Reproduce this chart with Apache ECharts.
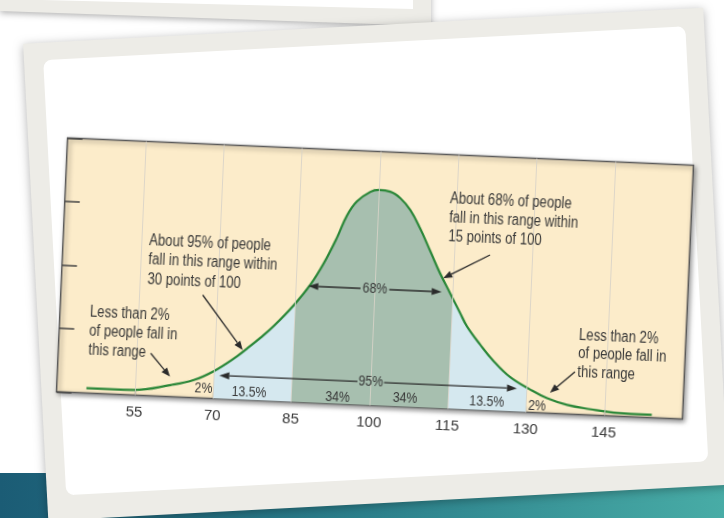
<!DOCTYPE html>
<html><head><meta charset="utf-8">
<script src="https://cdn.jsdelivr.net/npm/echarts@6/dist/echarts.min.js"></script>
<style>
html,body{margin:0;padding:0;width:724px;height:518px;overflow:hidden;background:#fff}
#bg,#chart{position:absolute;left:0;top:0;width:724px;height:518px}
#chart{transform-origin:375px 278.5px;transform:rotate(2.5deg)}
</style></head><body>
<div id="bg"></div><div id="chart"></div>
<script>
// ---- data ----
const curveX = [45.7, 54.8, 61.8, 66.2, 69.9, 73.6, 76.1, 78.6, 81.0, 84.65, 87.7, 90.05, 92.4, 94.1, 95.9, 98.4, 100.0, 102.2, 104.2, 106.2, 108.2, 110.4, 112.4, 114.5, 116.6, 118.0, 120.7, 123.4, 126.7, 130.6, 133.9, 137.8, 142.3, 146.8, 154.1];
const curveY = [0.076, 0.082, 0.184, 0.279, 0.43, 0.64, 0.81, 0.99, 1.18, 1.52, 1.86, 2.20, 2.62, 2.97, 3.20, 3.36, 3.395, 3.376, 3.28, 3.10, 2.822, 2.46, 2.128, 1.82, 1.512, 1.31, 1.03, 0.78, 0.54, 0.36, 0.235, 0.143, 0.091, 0.054, 0.044];
const xTickValues = [55, 70, 85, 100, 115, 130, 145];
const yTickValues = [0, 1, 2, 3, 4];
const bandEdges = [70, 85, 115, 130];
const bandLabels = ['2%', '13.5%', '34%', '34%', '13.5%', '2%'];
const rangeLabels = ['68%', '95%'];
const notes = [
  'About 95% of people\nfall in this range within\n30 points of 100',
  'Less than 2%\nof people fall in\nthis range',
  'About 68% of people\nfall in this range within\n15 points of 100',
  'Less than 2%\nof people fall in\nthis range'
];

// ---- style / layout ----
const FONT = "'Liberation Sans',Arial,sans-serif";
const NARROW = 0.82;
const TXT = '#383838';
const PEACH = '#fcecca', GREEN = '#a7bfaf', BLUE = '#d5e8ef', CURVE = '#2a8738';

// background scene
const bg = echarts.init(document.getElementById('bg'), null, {renderer: 'canvas'});
const deg = Math.PI / 180;
bg.setOption({
  animation: false,
  graphic: [
    {type: 'rect', shape: {x: 0, y: 473, width: 724, height: 45},
     style: {fill: new echarts.graphic.LinearGradient(0, 0, 1, 0, [
       {offset: 0, color: '#1b5c75'}, {offset: 0.5, color: '#2b7f8b'}, {offset: 1, color: '#48aca6'}])}},
    {type: 'polygon', shape: {points: [[0, -10], [431, -10], [431, 26], [0, 11]]},
     style: {fill: '#edece7', shadowBlur: 6, shadowColor: 'rgba(0,0,0,0.3)', shadowOffsetY: 2}},
    {type: 'polygon', shape: {points: [[0, -10], [413, -10], [413, 9], [0, -1]]}, style: {fill: '#ffffff'}},
    {type: 'rect', x: 375.75, y: 264.25, rotation: 3.03 * deg,
     shape: {x: -340.5, y: -238.85, width: 681, height: 477.7},
     style: {fill: '#edece7', shadowBlur: 10, shadowColor: 'rgba(0,0,0,0.3)', shadowOffsetY: 2}},
    {type: 'rect', x: 375.75, y: 260.75, rotation: 3.03 * deg,
     shape: {x: -321.5, y: -217.85, width: 643, height: 435.7, r: 8},
     style: {fill: '#ffffff'}}
  ]
});

// chart
const chart = echarts.init(document.getElementById('chart'), null, {renderer: 'canvas'});
const curve = curveX.map((x, i) => [x, curveY[i]]);

function arrow(x1, y1, x2, y2, len) {
  const a = Math.atan2(y2 - y1, x2 - x1), L = len || 10, W = 3.6;
  const bx = x2 - L * Math.cos(a), by = y2 - L * Math.sin(a);
  const px = -Math.sin(a) * W, py = Math.cos(a) * W;
  return [
    {type: 'line', z: 100, shape: {x1: x1, y1: y1, x2: bx, y2: by}, style: {stroke: '#2b2b2b', lineWidth: 1.3}},
    {type: 'polygon', z: 100, shape: {points: [[x2, y2], [bx + px, by + py], [bx - px, by - py]]}, style: {fill: '#2b2b2b'}}
  ];
}
function txt(s, x, y, size, align, vAlign, lh) {
  return {type: 'text', z: 100, x: x, y: y, scaleX: NARROW,
    style: {text: s, fill: TXT, font: size + 'px ' + FONT, align: align, verticalAlign: vAlign, lineHeight: lh || size}};
}

const noteBoxes = [[147.8, 240.4, 19.5], [91.8, 315.0, 19], [446.4, 185.8, 19], [581.3, 317.2, 18.5]];
const bandLabelPos = [[208.5, 396], [254.1, 398], [342.7, 399], [410.2, 397], [492.0, 397], [542.4, 399]];

const graphics = [];
notes.forEach((n, i) => {
  const b = noteBoxes[i];
  graphics.push(txt(n, b[0], b[1], 16, 'left', 'top', b[2]));
});
bandLabels.forEach((s, i) => graphics.push(txt(s, bandLabelPos[i][0], bandLabelPos[i][1], 15, 'center', 'middle')));
graphics.push(txt(rangeLabels[0], 375.4, 289, 15, 'center', 'middle'));
graphics.push(txt(rangeLabels[1], 375.3, 382, 15, 'center', 'middle'));
graphics.push(...arrow(361, 289, 308.7, 289), ...arrow(389.7, 289, 442.2, 289));
graphics.push(...arrow(362, 382.2, 223.7, 382.2), ...arrow(388.6, 382.2, 521.6, 382.2));
graphics.push(...arrow(203.6, 302.5, 245.9, 355.7, 9));
graphics.push(...arrow(154.2, 363.0, 174.5, 385.5, 9));
graphics.push(...arrow(488.9, 250.0, 443.2, 275.3, 9));
graphics.push(...arrow(578.9, 362.9, 554.8, 385.0, 9));

const clear = 'rgba(252,236,202,0)';
const bandColors = [BLUE, GREEN, BLUE];
const pieces = [{lt: bandEdges[0], color: clear}];
for (let i = 0; i < bandEdges.length - 1; i++) pieces.push({gte: bandEdges[i], lt: bandEdges[i + 1], color: bandColors[i]});
pieces.push({gte: bandEdges[bandEdges.length - 1], color: clear});

chart.setOption({
  animation: false,
  backgroundColor: 'transparent',
  grid: {left: 61.7, top: 151.5, width: 626.6, height: 254, show: true, backgroundColor: PEACH,
    borderColor: '#5a5a5a', borderWidth: 1.5, shadowBlur: 5, shadowColor: 'rgba(0,0,0,0.45)', shadowOffsetX: 2, shadowOffsetY: 2},
  xAxis: {type: 'value', min: 40, max: 160,
    axisLine: {show: false}, splitLine: {show: false},
    axisTick: {show: true, inside: true, length: 6, customValues: xTickValues, lineStyle: {color: '#555', width: 1.2}},
    axisLabel: {show: true, customValues: xTickValues, margin: 10, fontSize: 15, fontFamily: FONT, color: TXT}},
  yAxis: {type: 'value', min: 0, max: 4, interval: 1,
    axisLine: {show: false}, splitLine: {show: false}, axisLabel: {show: false},
    axisTick: {show: true, inside: true, length: 15, customValues: yTickValues, lineStyle: {color: '#444', width: 1.5}}},
  visualMap: {type: 'piecewise', show: false, dimension: 0, seriesIndex: 0, pieces: pieces},
  series: [
    {type: 'line', data: curve, smooth: 0.4, showSymbol: false, silent: true, z: 1,
     lineStyle: {width: 0}, areaStyle: {opacity: 1},
     markLine: {silent: true, symbol: ['none', 'none'], label: {show: false},
       lineStyle: {color: 'rgba(215,210,200,0.85)', width: 1, type: 'solid'},
       data: xTickValues.map(v => ({xAxis: v}))}},
    {type: 'line', data: curve, smooth: 0.4, showSymbol: false, silent: true, z: 3,
     lineStyle: {color: CURVE, width: 2.2}}
  ],
  graphic: graphics
});
</script></body></html>
